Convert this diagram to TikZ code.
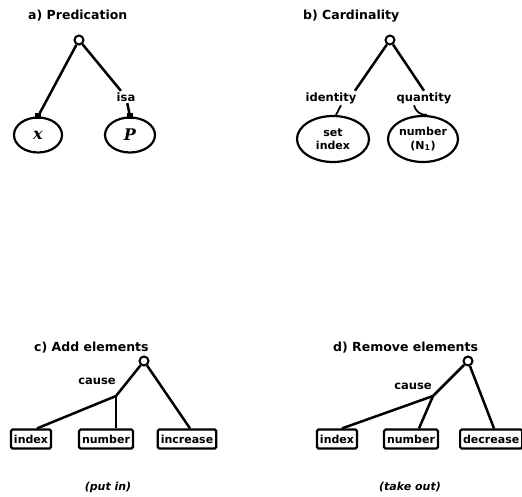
\documentclass[tikz,border=0pt]{standalone}
\usepackage{fontspec}
\setmainfont{DejaVu Sans}
\newfontfamily\varfont{DejaVu Serif}
\usetikzlibrary{shapes.geometric}
\begin{document}
\begin{tikzpicture}[x=1pt,y=-1pt,
  ttl/.style={anchor=west, inner sep=0pt, font=\bfseries\fontsize{12.5}{14}\selectfont},
  lbl/.style={inner sep=1.5pt, font=\bfseries\fontsize{11.5}{13}\selectfont},
  rootc/.style={circle, draw, line width=2pt, fill=white, minimum size=9pt, inner sep=0pt},
  link/.style={line width=2.5pt},
  oval/.style={ellipse, draw, line width=2.2pt, inner sep=0pt, align=center,
    font=\bfseries\fontsize{11}{13.5}\selectfont},
  var/.style={font=\varfont\bfseries\itshape\fontsize{16}{18}\selectfont},
  leaf/.style={draw, line width=2.2pt, rounded corners=1.5pt, inner sep=3pt,
    minimum height=19pt, font=\bfseries\fontsize{11}{12}\selectfont},
  tick/.style={fill, minimum size=6pt, inner sep=0pt},
  note/.style={font=\bfseries\itshape\fontsize{11}{13}\selectfont}
]
\useasboundingbox (0,0) rectangle (522,496);

% ---------- a) Predication ----------
\node[ttl] (ta) at (28,16) {a)\ Predication};
\node[oval, var, minimum width=48, minimum height=35] (ex) at (38,135) {x};
\node[oval, var, minimum width=50, minimum height=35] (ep) at (130,135) {P};
\node[tick] (mx) at (ex.north) {};
\node[tick] (mp) at (ep.north) {};
\node[lbl] (isa) at (126,97) {isa};
\node[rootc] (ra) at (79,40) {};
\draw[link] (ra) -- (mx);
\draw[link] (ra) -- (isa);
\draw[link] (isa) -- (mp);

% ---------- b) Cardinality ----------
\node[ttl] (tb) at (303,16) {b)\ Cardinality};
\node[lbl] (id) at (331,98) {identity};
\node[lbl] (qu) at (424,98) {quantity};
\node[oval, minimum width=72, minimum height=46] (es) at (333,139) {set\\index};
\node[oval, minimum width=70, minimum height=46] (en) at (423,139) {number\\(N\textsubscript{1})};
\node[rootc] (rb) at (390,40) {};
\draw[link] (rb) -- ([xshift=-3pt]id.north east);
\draw[link] (rb) -- (qu.north);
\draw[line width=1.8pt] ([xshift=10pt]id.south) -- ([xshift=3pt]es.north);
\draw[line width=1.8pt] ([xshift=-10pt]qu.south) to[bend right=40] ([xshift=4pt]en.north);

% ---------- c) Add elements ----------
\node[ttl] (tc) at (34,348) {c)\ Add elements};
\node[lbl] (cc) at (97,381) {cause};
\coordinate (jc) at (116,396);
\node[leaf] (ci) at (31,439) {index};
\node[leaf] (cn) at (106,439) {number};
\node[leaf] (cr) at (187,439) {increase};
\node[rootc] (rc) at (144,361) {};
\draw[link] (rc) -- (jc) -- ([xshift=6pt]ci.north);
\draw[link] (jc) -- (jc |- cn.north);
\draw[link] (rc) -- ([xshift=3pt]cr.north);
\node[note] (pc) at (108,487) {(put in)};

% ---------- d) Remove elements ----------
\node[ttl] (td) at (333,348) {d)\ Remove elements};
\node[lbl] (cd) at (413,386) {cause};
\coordinate (jd) at (433,396);
\node[leaf] (di) at (337,439) {index};
\node[leaf] (dn) at (411,439) {number};
\node[leaf, anchor=west] (dr) at (459,439) {decrease};
\node[rootc] (rd) at (468,361) {};
\draw[link] (rd) -- (jd) -- ([xshift=5pt]di.north);
\draw[link] (jd) -- ([xshift=8pt]dn.north);
\draw[link] (rd) -- (dr.north -| 494,0);
\node[note] (pd) at (410,487) {(take out)};
\end{tikzpicture}
\end{document}
